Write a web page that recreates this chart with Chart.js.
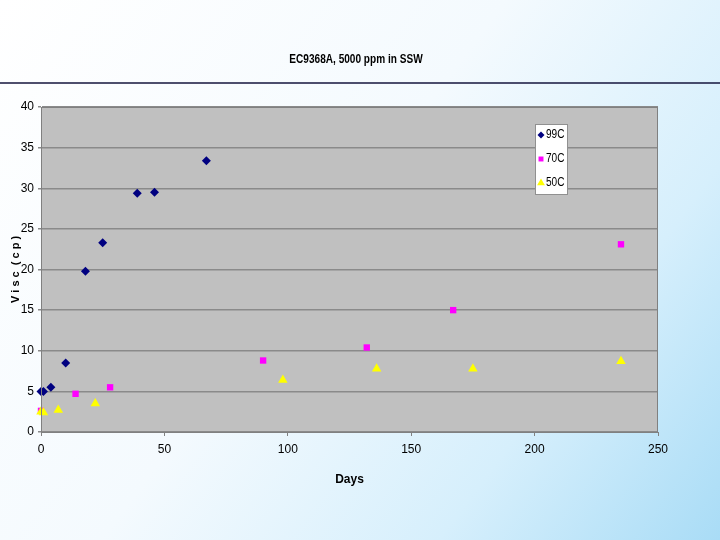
<!DOCTYPE html>
<html>
<head>
<meta charset="utf-8">
<script src="https://cdn.jsdelivr.net/npm/chart.js@4"></script>
<style>
  html, body { margin: 0; padding: 0; }
</style>
</head>
<body>
<canvas id="visc" width="720" height="540"></canvas>
<script>
// values
const chartTitle = "EC9368A, 5000 ppm in SSW";
const seriesNames = ["99C", "70C", "50C"];

const days99 = [0, 1, 4, 10, 18, 25, 39, 46, 67];
const visc99 = [5.0, 5.0, 5.5, 8.5, 19.8, 23.3, 29.4, 29.5, 33.4];

const days70 = [0, 14, 28, 90, 132, 167, 235];
const visc70 = [2.6, 4.7, 5.5, 8.8, 10.4, 15.0, 23.1];

const days50 = [0, 1, 7, 22, 98, 136, 175, 235];
const visc50 = [2.5, 2.4, 2.7, 3.5, 6.4, 7.8, 7.8, 8.7];

const xTicks = [0, 50, 100, 150, 200, 250];
const yTicks = [0, 5, 10, 15, 20, 25, 30, 35, 40];

const FONT = "'Liberation Sans', Arial, sans-serif";

function pts(xs, ys) {
  return xs.map((x, i) => ({ x: x, y: ys[i] }));
}

// narrow text like the slide's Arial Narrow: squeeze horizontally
function narrowText(ctx, txt, x, y, align) {
  ctx.save();
  ctx.translate(x, y);
  ctx.scale(0.84, 1);
  ctx.textAlign = align;
  ctx.fillText(txt, 0, 0);
  ctx.restore();
}

// slide background, title and the grey plot box
const slidePlugin = {
  id: "slide",
  beforeDraw(chart) {
    const ctx = chart.ctx;
    const w = chart.width, h = chart.height;
    const g = ctx.createLinearGradient(0, 0, w, h);
    g.addColorStop(0, "#ffffff");
    g.addColorStop(0.45, "#f4fafe");
    g.addColorStop(0.75, "#d6effc");
    g.addColorStop(1, "#a9dcf6");
    ctx.save();
    ctx.fillStyle = g;
    ctx.fillRect(0, 0, w, h);

    ctx.strokeStyle = "#14143c";
    ctx.lineWidth = 1.5;
    ctx.beginPath();
    ctx.moveTo(0, 83);
    ctx.lineTo(w, 83);
    ctx.stroke();

    ctx.fillStyle = "#000";
    ctx.font = "bold 12px " + FONT;
    ctx.textBaseline = "middle";
    narrowText(ctx, chartTitle, 356, 60, "center");

    const a = chart.chartArea;
    ctx.fillStyle = "#c0c0c0";
    ctx.fillRect(a.left, a.top, a.right - a.left, a.bottom - a.top);
    ctx.restore();
  },
  afterDatasetsDraw(chart) {
    const ctx = chart.ctx;
    const a = chart.chartArea;
    ctx.save();
    ctx.strokeStyle = "#808080";
    ctx.lineWidth = 1;
    ctx.strokeRect(a.left + 0.5, a.top + 0.5, a.right - a.left - 1, a.bottom - a.top);

    // legend box inside the plot
    const bx = 535, by = 124, bw = 32, bh = 70;
    ctx.fillStyle = "#ffffff";
    ctx.fillRect(bx, by, bw, bh);
    ctx.strokeStyle = "#909090";
    ctx.strokeRect(bx + 0.5, by + 0.5, bw, bh);
    ctx.font = "12px " + FONT;
    ctx.textBaseline = "middle";
    chart.data.datasets.forEach((ds, i) => {
      const cy = by + 11 + i * 24;
      ctx.fillStyle = ds.backgroundColor;
      ctx.strokeStyle = ds.backgroundColor;
      Chart.helpers.drawPoint(ctx, {
        pointStyle: ds.pointStyle,
        radius: ds.pointRadius - 1,
        borderWidth: 0
      }, bx + 6, cy);
      ctx.fillStyle = "#000";
      narrowText(ctx, ds.label, bx + 11, cy, "left");
    });
    ctx.restore();
  }
};

new Chart(document.getElementById("visc"), {
  type: "scatter",
  data: {
    datasets: [
      {
        label: seriesNames[0],
        data: pts(days99, visc99),
        pointStyle: "rectRot",
        pointRadius: 4.5,
        backgroundColor: "#000080",
        borderColor: "#000080",
        borderWidth: 0,
        clip: false,
        order: 2
      },
      {
        label: seriesNames[1],
        data: pts(days70, visc70),
        pointStyle: "rect",
        pointRadius: 4.5,
        backgroundColor: "#ff00ff",
        borderColor: "#ff00ff",
        borderWidth: 0,
        clip: false,
        order: 1
      },
      {
        label: seriesNames[2],
        data: pts(days50, visc50),
        pointStyle: "triangle",
        pointRadius: 5.5,
        backgroundColor: "#ffff00",
        borderColor: "#ffff00",
        borderWidth: 0,
        clip: false,
        order: 0
      }
    ]
  },
  options: {
    responsive: false,
    animation: false,
    layout: { padding: { top: 107, right: 62, left: 0, bottom: 53 } },
    plugins: {
      legend: { display: false },
      tooltip: { enabled: false }
    },
    scales: {
      x: {
        type: "linear",
        min: 0,
        max: 250,
        afterBuildTicks(scale) { scale.ticks = xTicks.map(v => ({ value: v })); },
        afterFit(scale) { scale.height = 55; },
        grid: {
          display: true,
          drawOnChartArea: false,
          drawTicks: true,
          tickLength: 4,
          color: "#808080"
        },
        border: { color: "#808080" },
        ticks: {
          color: "#000",
          padding: 6,
          font: { family: FONT, size: 12 },
          maxRotation: 0
        },
        title: {
          display: true,
          text: "Days",
          color: "#000",
          font: { family: FONT, size: 12, weight: "bold" },
          padding: { top: 0, bottom: 0 }
        }
      },
      y: {
        min: 0,
        max: 40,
        afterBuildTicks(scale) { scale.ticks = yTicks.map(v => ({ value: v })); },
        afterFit(scale) { scale.width = 41; },
        grid: {
          color: "#8a8a8a",
          lineWidth: 1.5,
          drawTicks: true,
          tickLength: 3
        },
        border: { color: "#808080" },
        ticks: {
          color: "#000",
          padding: 4,
          font: { family: FONT, size: 12 }
        },
        title: {
          display: true,
          text: "V i s c  ( c p )",
          color: "#000",
          font: { family: FONT, size: 11, weight: "bold" },
          padding: { top: 9, bottom: 0 }
        }
      }
    }
  },
  plugins: [slidePlugin]
});
</script>
</body>
</html>
